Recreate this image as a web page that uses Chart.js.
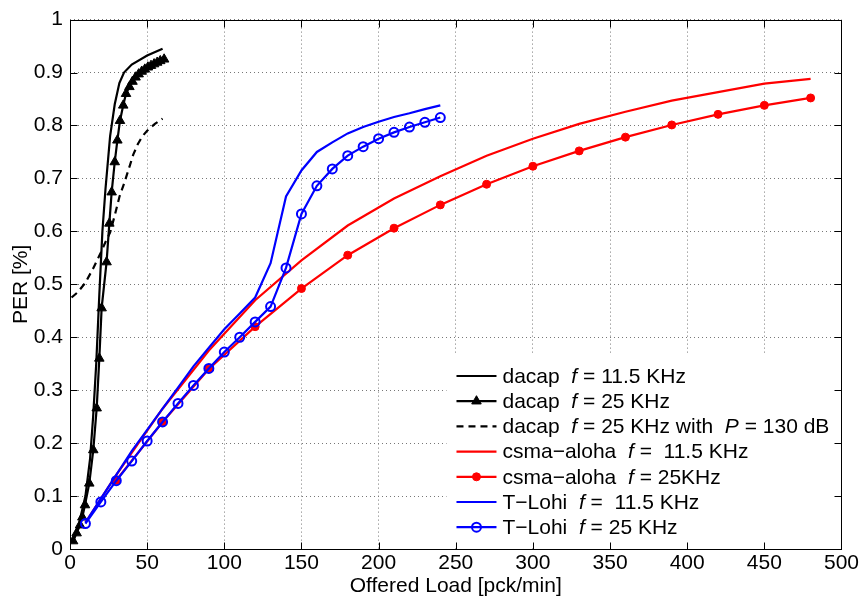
<!DOCTYPE html>
<html>
<head>
<meta charset="utf-8">
<script src="https://cdn.jsdelivr.net/npm/chart.js@4.4.1/dist/chart.umd.min.js"></script>
<style>
  html, body { margin: 0; padding: 0; background: #fff; }
  #wrap { width: 861px; height: 599px; }
</style>
</head>
<body>
<div id="wrap"><canvas id="c" width="861" height="599"></canvas></div>
<script>
// ---------- data ----------
const xTicks = [0, 50, 100, 150, 200, 250, 300, 350, 400, 450, 500];
const xTickLabels = ['0', '50', '100', '150', '200', '250', '300', '350', '400', '450', '500'];
const yTicks = [0, 0.1, 0.2, 0.3, 0.4, 0.5, 0.6, 0.7, 0.8, 0.9, 1];
const yTickLabels = ['0', '0.1', '0.2', '0.3', '0.4', '0.5', '0.6', '0.7', '0.8', '0.9', '1'];

const dacap115X = [2, 6, 10, 13, 15, 17, 19, 21, 23, 26, 29, 32, 35, 40, 50, 60];
const dacap115Y = [0.015, 0.05, 0.1, 0.17, 0.25, 0.35, 0.48, 0.6, 0.68, 0.78, 0.84, 0.88, 0.9, 0.915, 0.932, 0.945];

const dacap25X = [2, 4.3, 6.5, 8, 9.7, 12.5, 15.1, 17.3, 19, 20.5, 23.7, 25.5, 27, 29, 30.7, 32.4, 34.5, 36.3, 38.5, 40.5, 42.5, 44.5, 46.5, 48.5, 50.5, 52.5, 54.5, 56.5, 58.5, 61];
const dacap25Y = [0.015, 0.03, 0.045, 0.06, 0.083, 0.124, 0.187, 0.266, 0.36, 0.455, 0.542, 0.615, 0.674, 0.731, 0.772, 0.809, 0.838, 0.86, 0.873, 0.883, 0.891, 0.897, 0.902, 0.906, 0.91, 0.913, 0.916, 0.919, 0.922, 0.925];

const dacapPX = [1, 5, 10, 15, 20, 23, 26, 29, 32, 35, 38, 41, 44, 47, 50, 55, 60];
const dacapPY = [0.475, 0.485, 0.503, 0.53, 0.56, 0.58, 0.598, 0.63, 0.665, 0.69, 0.717, 0.745, 0.765, 0.78, 0.79, 0.803, 0.813];

const csma115X = [10, 30, 60, 90, 120, 150, 180, 210, 240, 270, 300, 330, 360, 390, 420, 450, 480];
const csma115Y = [0.05, 0.14, 0.265, 0.375, 0.47, 0.545, 0.611, 0.662, 0.704, 0.743, 0.775, 0.803, 0.826, 0.847, 0.863, 0.879, 0.888];

const csma25X = [30, 60, 90, 120, 150, 180, 210, 240, 270, 300, 330, 360, 390, 420, 450, 480];
const csma25Y = [0.13, 0.24, 0.34, 0.42, 0.492, 0.555, 0.606, 0.65, 0.689, 0.723, 0.752, 0.778, 0.801, 0.821, 0.838, 0.852];

const tlohi115X = [10, 20, 30, 40, 50, 60, 70, 80, 90, 100, 110, 120, 130, 140, 150, 160, 170, 180, 190, 200, 210, 220, 230, 240];
const tlohi115Y = [0.05, 0.095, 0.14, 0.185, 0.225, 0.265, 0.305, 0.345, 0.38, 0.415, 0.445, 0.475, 0.54, 0.666, 0.715, 0.75, 0.768, 0.785, 0.797, 0.807, 0.816, 0.823, 0.831, 0.838];

const tlohi25X = [10, 20, 30, 40, 50, 60, 70, 80, 90, 100, 110, 120, 130, 140, 150, 160, 170, 180, 190, 200, 210, 220, 230, 240];
const tlohi25Y = [0.048, 0.089, 0.129, 0.166, 0.204, 0.24, 0.275, 0.309, 0.341, 0.372, 0.4, 0.429, 0.458, 0.531, 0.633, 0.686, 0.718, 0.743, 0.76, 0.775, 0.787, 0.797, 0.806, 0.815];

const seriesLabels = [
  'dacap  *f* = 11.5 KHz',
  'dacap  *f* = 25 KHz',
  'dacap  *f* = 25 KHz with  *P* = 130 dB',
  'csma\u2212aloha  *f* =  11.5 KHz',
  'csma\u2212aloha  *f* = 25KHz',
  'T\u2212Lohi  *f* =  11.5 KHz',
  'T\u2212Lohi  *f* = 25 KHz'
];

// ---------- build ----------
const FONT = '"Liberation Sans", Arial, Helvetica, sans-serif';
const FS = 21;
function pts(xs, ys) { return xs.map((x, i) => ({ x: x, y: ys[i] })); }

const styles = [
  { color: '#000000', dash: [], marker: false },
  { color: '#000000', dash: [], marker: 'triangle', r: 5.5, fill: '#000000', bw: 1 },
  { color: '#000000', dash: [7, 5], marker: false },
  { color: '#ff0000', dash: [], marker: false },
  { color: '#ff0000', dash: [], marker: 'circle', r: 4, fill: '#ff0000', bw: 1 },
  { color: '#0000ff', dash: [], marker: false },
  { color: '#0000ff', dash: [], marker: 'circle', r: 4.5, fill: 'rgba(0,0,0,0)', bw: 2 }
];
const seriesData = [
  pts(dacap115X, dacap115Y), pts(dacap25X, dacap25Y), pts(dacapPX, dacapPY),
  pts(csma115X, csma115Y), pts(csma25X, csma25Y),
  pts(tlohi115X, tlohi115Y), pts(tlohi25X, tlohi25Y)
];

const datasets = seriesData.map((d, i) => {
  const s = styles[i];
  return {
    label: seriesLabels[i].replace(/\*/g, ''),
    data: d,
    borderColor: s.color,
    borderWidth: 2.2,
    borderDash: s.dash,
    backgroundColor: s.marker ? s.fill : s.color,
    pointStyle: s.marker || 'circle',
    pointRadius: s.marker ? s.r : 0,
    pointBorderWidth: s.marker ? s.bw : 0,
    pointBorderColor: s.color,
    pointBackgroundColor: s.marker ? s.fill : s.color,
    tension: 0,
    fill: false,
    showLine: true,
    order: 10 - i
  };
});

const framePlugin = {
  id: 'frame',
  afterDraw(chart) {
    const ctx = chart.ctx;
    const a = chart.chartArea;
    const xs = chart.scales.x, ys = chart.scales.y;
    ctx.save();
    // legend
    const lx0 = a.right - 395, ly0 = a.bottom - 195;
    ctx.fillStyle = '#ffffff';
    ctx.fillRect(lx0, ly0, a.right - lx0 - 1, a.bottom - ly0 - 1);
    for (let i = 0; i < seriesLabels.length; i++) {
      const s = styles[i];
      const cy = ly0 + 22 + i * 25.2;
      const x1 = lx0 + 10, x2 = lx0 + 50;
      ctx.strokeStyle = s.color;
      ctx.lineWidth = 2.2;
      ctx.setLineDash(s.dash);
      ctx.beginPath(); ctx.moveTo(x1, cy); ctx.lineTo(x2, cy); ctx.stroke();
      ctx.setLineDash([]);
      const mx = (x1 + x2) / 2;
      if (s.marker === 'triangle') {
        const r = s.r;
        ctx.beginPath();
        ctx.moveTo(mx, cy - r);
        ctx.lineTo(mx + r * 0.866, cy + r * 0.5);
        ctx.lineTo(mx - r * 0.866, cy + r * 0.5);
        ctx.closePath();
        ctx.fillStyle = s.fill; ctx.fill();
        ctx.lineWidth = s.bw; ctx.stroke();
      } else if (s.marker === 'circle') {
        ctx.beginPath(); ctx.arc(mx, cy, s.r, 0, Math.PI * 2);
        ctx.fillStyle = s.fill; ctx.fill();
        ctx.lineWidth = s.bw; ctx.stroke();
      }
      // text with italic segments
      let tx = x2 + 6;
      ctx.fillStyle = '#000';
      ctx.textBaseline = 'middle';
      ctx.textAlign = 'left';
      const parts = seriesLabels[i].split('*');
      parts.forEach((p, k) => {
        ctx.font = (k % 2 === 1 ? 'italic ' : '') + FS + 'px ' + FONT;
        ctx.fillText(p, tx, cy + 1);
        tx += ctx.measureText(p).width;
      });
    }
    // box
    ctx.strokeStyle = '#000';
    ctx.lineWidth = 1;
    const L = Math.round(a.left) + 0.5, R = Math.round(a.right) + 0.5;
    const T = Math.round(a.top) + 0.5, B = Math.round(a.bottom) + 0.5;
    ctx.strokeRect(L, T, R - L, B - T);
    // inward ticks
    const tl = 7;
    ctx.beginPath();
    xTicks.forEach(v => {
      const px = Math.round(xs.getPixelForValue(v)) + 0.5;
      ctx.moveTo(px, B); ctx.lineTo(px, B - tl);
      ctx.moveTo(px, T); ctx.lineTo(px, T + tl);
    });
    yTicks.forEach(v => {
      const py = Math.round(ys.getPixelForValue(v)) + 0.5;
      ctx.moveTo(L, py); ctx.lineTo(L + tl, py);
      ctx.moveTo(R, py); ctx.lineTo(R - tl, py);
    });
    ctx.stroke();
    ctx.restore();
  }
};

new Chart(document.getElementById('c'), {
  type: 'line',
  data: { datasets: datasets },
  plugins: [framePlugin],
  options: {
    responsive: false,
    animation: false,
    events: [],
    layout: { padding: { top: 19, right: 19, left: 0, bottom: 0 } },
    plugins: { legend: { display: false }, tooltip: { enabled: false } },
    scales: {
      x: {
        type: 'linear', min: 0, max: 500,
        afterBuildTicks: s => { s.ticks = xTicks.map(v => ({ value: v })); },
        afterFit: s => { s.height = 50; },
        ticks: {
          callback: (v, i) => xTickLabels[i],
          font: { family: FONT, size: FS }, color: '#000',
          padding: 2, maxRotation: 0, autoSkip: false
        },
        grid: { color: '#777', lineWidth: 1, drawTicks: false },
        border: { display: false, dash: [1, 3] },
        title: { display: true, text: 'Offered Load [pck/min]', color: '#000',
                 font: { family: FONT, size: FS }, padding: { top: 0, bottom: 0 } }
      },
      y: {
        type: 'linear', min: 0, max: 1,
        afterBuildTicks: s => { s.ticks = yTicks.map(v => ({ value: v })); },
        afterFit: s => { s.width = 70; },
        ticks: {
          callback: (v, i) => yTickLabels[i],
          font: { family: FONT, size: FS }, color: '#000',
          padding: 7, autoSkip: false
        },
        grid: { color: '#777', lineWidth: 1, drawTicks: false },
        border: { display: false, dash: [1, 3] },
        title: { display: true, text: 'PER [%]', color: '#000',
                 font: { family: FONT, size: FS }, padding: { top: 9, bottom: 0 } }
      }
    }
  }
});
</script>
</body>
</html>
